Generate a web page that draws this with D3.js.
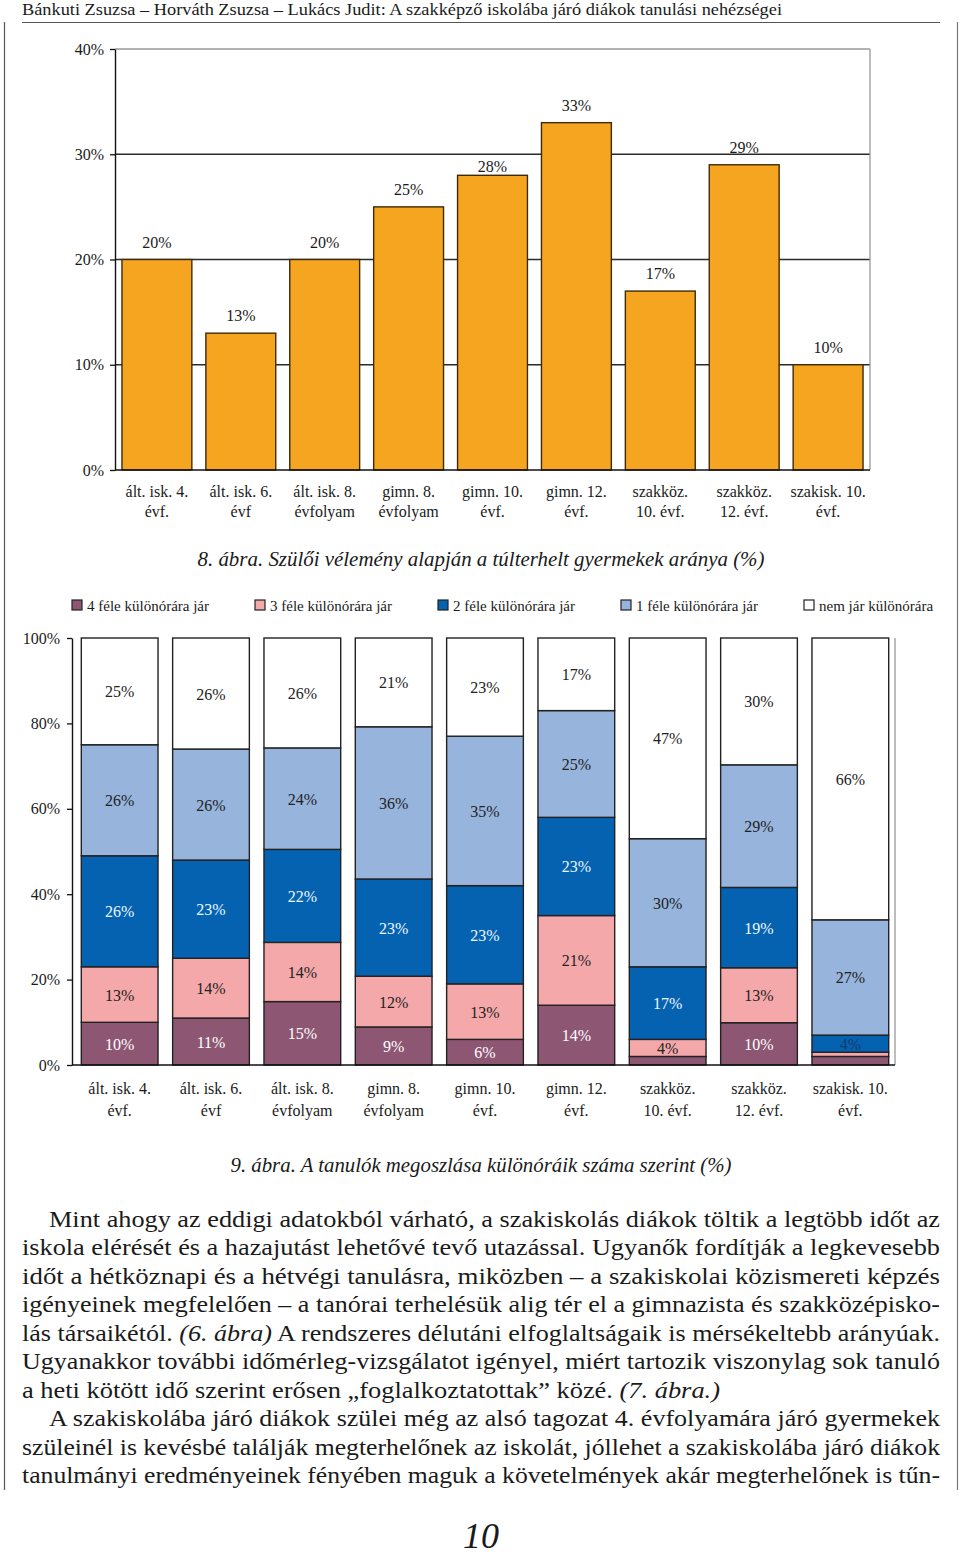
<!DOCTYPE html>
<html><head><meta charset="utf-8">
<script src="https://cdn.jsdelivr.net/npm/d3@7"></script>
<style>
body{margin:0;background:#fff}
svg{display:block}
text{font-family:"Liberation Serif","Times New Roman",serif;fill:#1a1a1a}
</style>
</head><body>
<svg id="page" width="960" height="1557"></svg>
<script>
// ---------- data ----------
const categories = ["ált. isk. 4.|évf.","ált. isk. 6.|évf","ált. isk. 8.|évfolyam","gimn. 8.|évfolyam","gimn. 10.|évf.","gimn. 12.|évf.","szakköz.|10. évf.","szakköz.|12. évf.","szakisk. 10.|évf."];
const overloadedShare = [20,13,20,25,28,33,17,29,10];
const yTicks1 = [0,10,20,30,40];

const seriesNames = ["4 féle különórára jár","3 féle különórára jár","2 féle különórára jár","1 féle különórára jár","nem jár különórára"];
const fourKinds  = [10,11,15, 9, 6,14, 2,10, 2];
const threeKinds = [13,14,14,12,13,21, 4,13, 1];
const twoKinds   = [26,23,22,23,23,23,17,19, 4];
const oneKind    = [26,26,24,36,35,25,30,29,27];
const noneKind   = [25,26,26,21,23,17,47,30,66];
const yTicks2 = [0,20,40,60,80,100];

const seriesColors = ["#8d5773","#f4a8aa","#0562b0","#96b4dc","#ffffff"];
const labelColors  = ["#ffffff","#222222","#eef8ff","#222222","#222222"];

const headerText = "Bánkuti Zsuzsa – Horváth Zsuzsa – Lukács Judit: A szakképző iskolába járó diákok tanulási nehézségei";
const caption8 = "8. ábra. Szülői vélemény alapján a túlterhelt gyermekek aránya (%)";
const caption9 = "9. ábra. A tanulók megoszlása különóráik száma szerint (%)";
const bodyLines = [
  {indent:true, justify:true, segs:[["Mint ahogy az eddigi adatokból várható, a szakiskolás diákok töltik a legtöbb időt az",0]]},
  {indent:false, justify:true, segs:[["iskola elérését és a hazajutást lehetővé tevő utazással. Ugyanők fordítják a legkevesebb",0]]},
  {indent:false, justify:true, segs:[["időt a hétköznapi és a hétvégi tanulásra, miközben – a szakiskolai közismereti képzés",0]]},
  {indent:false, justify:true, segs:[["igényeinek megfelelően – a tanórai terhelésük alig tér el a gimnazista és szakközépisko-",0]]},
  {indent:false, justify:true, segs:[["lás társaikétól. ",0],["(6. ábra)",1],[" A rendszeres délutáni elfoglaltságaik is mérsékeltebb arányúak.",0]]},
  {indent:false, justify:true, segs:[["Ugyanakkor további időmérleg-vizsgálatot igényel, miért tartozik viszonylag sok tanuló",0]]},
  {indent:false, justify:false, segs:[["a heti kötött idő szerint erősen „foglalkoztatottak” közé. ",0],["(7.  ábra.)",1]]},
  {indent:true, justify:true, segs:[["A szakiskolába járó diákok szülei még az alsó tagozat 4. évfolyamára járó gyermekek",0]]},
  {indent:false, justify:true, segs:[["szüleinél is kevésbé találják megterhelőnek az iskolát, jóllehet a szakiskolába járó diákok",0]]},
  {indent:false, justify:true, segs:[["tanulmányi eredményeinek fényében maguk a követelmények akár megterhelőnek is tűn-",0]]}
];
const pageNumber = "10";

// ---------- page frame ----------
const svg = d3.select("#page");
svg.append("rect").attr("width",960).attr("height",1557).attr("fill","#fff");
svg.append("text").attr("x",22).attr("y",15).attr("font-size",17)
  .attr("textLength",760).attr("lengthAdjust","spacingAndGlyphs").text(headerText);
svg.append("line").attr("x1",22).attr("x2",940).attr("y1",22.5).attr("y2",22.5).attr("stroke","#555").attr("stroke-width",1.2);
svg.append("line").attr("x1",4.5).attr("x2",4.5).attr("y1",22).attr("y2",1490).attr("stroke","#555").attr("stroke-width",1.2);
svg.append("line").attr("x1",957.5).attr("x2",957.5).attr("y1",22).attr("y2",1490).attr("stroke","#777").attr("stroke-width",1.2);

// ---------- chart 1 ----------
const c1 = svg.append("g");
const x1 = d3.scaleBand().domain(d3.range(categories.length)).range([115,870]).paddingInner(0.167).paddingOuter(0.083);
const y1 = d3.scaleLinear().domain([0,40]).range([470,49]);

yTicks1.filter(t=>t>0 && t<40).forEach(t=>{
  c1.append("line").attr("x1",115).attr("x2",870).attr("y1",y1(t)).attr("y2",y1(t)).attr("stroke","#2a2a2a").attr("stroke-width",1.3);
});
c1.append("line").attr("x1",115).attr("x2",870).attr("y1",y1(40)).attr("y2",y1(40)).attr("stroke","#999").attr("stroke-width",1.3);
c1.append("line").attr("x1",870).attr("x2",870).attr("y1",y1(40)).attr("y2",y1(0)).attr("stroke","#999").attr("stroke-width",1.3);

c1.selectAll("rect.bar").data(overloadedShare).join("rect").attr("class","bar")
  .attr("x",(d,i)=>x1(i)).attr("width",x1.bandwidth())
  .attr("y",d=>y1(d)).attr("height",d=>y1(0)-y1(d))
  .attr("fill","#f6a521").attr("stroke","#3f2a08").attr("stroke-width",1.4);

// label above bar; nudged down next to the bar when it would sit on a gridline
function labelCenter(d){
  let c = y1(d) - 18;
  const nearGrid = yTicks1.some(t => Math.abs(y1(t) - c) < 5);
  if (nearGrid) c = y1(d) - 9;
  return c;
}
c1.selectAll("text.val").data(overloadedShare).join("text").attr("class","val")
  .attr("x",(d,i)=>x1(i)+x1.bandwidth()/2).attr("y",d=>labelCenter(d)+6)
  .attr("text-anchor","middle").attr("font-size",16).text(d=>d+"%");

const ax1 = c1.append("g").attr("transform","translate(115,0)")
  .call(d3.axisLeft(y1).tickValues(yTicks1).tickSize(5).tickSizeOuter(0).tickPadding(6).tickFormat(d=>d+"%"));
ax1.select(".domain").attr("stroke","#111").attr("stroke-width",1.4);
ax1.selectAll(".tick line").attr("stroke","#111").attr("stroke-width",1.3);
ax1.selectAll(".tick text").attr("font-size",16).attr("font-family","Liberation Serif").attr("fill","#1a1a1a");
c1.append("line").attr("x1",115).attr("x2",870).attr("y1",y1(0)).attr("y2",y1(0)).attr("stroke","#111").attr("stroke-width",1.6);

categories.forEach((c,i)=>{
  const parts = c.split("|");
  const t = c1.append("text").attr("text-anchor","middle").attr("font-size",16);
  parts.forEach((p,k)=>t.append("tspan").attr("x",x1(i)+x1.bandwidth()/2).attr("y",497+k*20).text(p));
});
svg.append("text").attr("x",481).attr("y",566).attr("text-anchor","middle").attr("font-size",20)
  .attr("font-style","italic").attr("textLength",567).attr("lengthAdjust","spacingAndGlyphs").text(caption8);

// ---------- chart 2 ----------
const c2 = svg.append("g");
const x2 = d3.scaleBand().domain(d3.range(categories.length)).range([74,896]).paddingInner(0.16).paddingOuter(0.08);
const y2 = d3.scaleLinear().domain([0,1]).range([1065,638]);
const allSeries = [fourKinds,threeKinds,twoKinds,oneKind,noneKind];
const rows = categories.map((c,i)=>{ const o={}; allSeries.forEach((s,k)=>o[k]=s[i]); return o; });
const stacked = d3.stack().keys(d3.range(5)).offset(d3.stackOffsetExpand)(rows);

c2.append("line").attr("x1",895).attr("x2",895).attr("y1",638).attr("y2",1065).attr("stroke","#999").attr("stroke-width",1.3);

stacked.forEach((layer,k)=>{
  const g = c2.append("g");
  g.selectAll("rect").data(layer).join("rect")
    .attr("x",(d,i)=>x2(i)).attr("width",x2.bandwidth())
    .attr("y",d=>y2(d[1])).attr("height",d=>y2(d[0])-y2(d[1]))
    .attr("fill",seriesColors[k]).attr("stroke","#222").attr("stroke-width",1.4);
});
stacked.forEach((layer,k)=>{
  const vals = allSeries[k];
  const items = layer.map((d,i)=>({d,i,v:vals[i]})).filter(o=>o.v>=3);
  c2.append("g").selectAll("text").data(items).join("text")
    .attr("x",o=>x2(o.i)+x2.bandwidth()/2)
    .attr("y",o=>(y2(o.d[0])+y2(o.d[1]))/2+6)
    .attr("text-anchor","middle").attr("font-size",16)
    .style("fill",o=> (k===2 && o.v<5) ? "#143a6e" : labelColors[k])
    .text(o=>o.v+"%");
});

const ax2 = c2.append("g").attr("transform","translate(72,0)")
  .call(d3.axisLeft(d3.scaleLinear().domain([0,100]).range([1065,638])).tickValues(yTicks2).tickSize(5).tickSizeOuter(0).tickPadding(7).tickFormat(d=>d+"%"));
ax2.select(".domain").attr("stroke","#111").attr("stroke-width",1.4);
ax2.selectAll(".tick line").attr("stroke","#111").attr("stroke-width",1.3);
ax2.selectAll(".tick text").attr("font-size",16).attr("font-family","Liberation Serif").attr("fill","#1a1a1a");
c2.append("line").attr("x1",72).attr("x2",895).attr("y1",1065).attr("y2",1065).attr("stroke","#111").attr("stroke-width",1.6);

categories.forEach((c,i)=>{
  const parts = c.split("|");
  const t = c2.append("text").attr("text-anchor","middle").attr("font-size",16);
  parts.forEach((p,k)=>t.append("tspan").attr("x",x2(i)+x2.bandwidth()/2).attr("y",1094+k*22).text(p));
});

// legend
seriesNames.forEach((n,k)=>{
  const lx = 72 + k*183;
  svg.append("rect").attr("x",lx).attr("y",600).attr("width",10).attr("height",10)
    .attr("fill",seriesColors[k]).attr("stroke","#222").attr("stroke-width",1.2);
  svg.append("text").attr("x",lx+15).attr("y",611).attr("font-size",15).text(n);
});

svg.append("text").attr("x",481).attr("y",1172).attr("text-anchor","middle").attr("font-size",20)
  .attr("font-style","italic").attr("textLength",501).attr("lengthAdjust","spacingAndGlyphs").text(caption9);

// ---------- body text ----------
bodyLines.forEach((ln,i)=>{
  const x0 = ln.indent ? 49 : 22;
  const t = svg.append("text").attr("x",x0).attr("y",1227+i*28.45).attr("font-size",24)
    .attr("textLength", ln.justify ? 940-x0 : 698).attr("lengthAdjust","spacingAndGlyphs");
  ln.segs.forEach(s=>t.append("tspan").attr("font-style",s[1]?"italic":"normal").text(s[0]));
});

svg.append("text").attr("x",481).attr("y",1548).attr("text-anchor","middle").attr("font-size",36)
  .attr("font-style","italic").text(pageNumber);
</script>
</body></html>
